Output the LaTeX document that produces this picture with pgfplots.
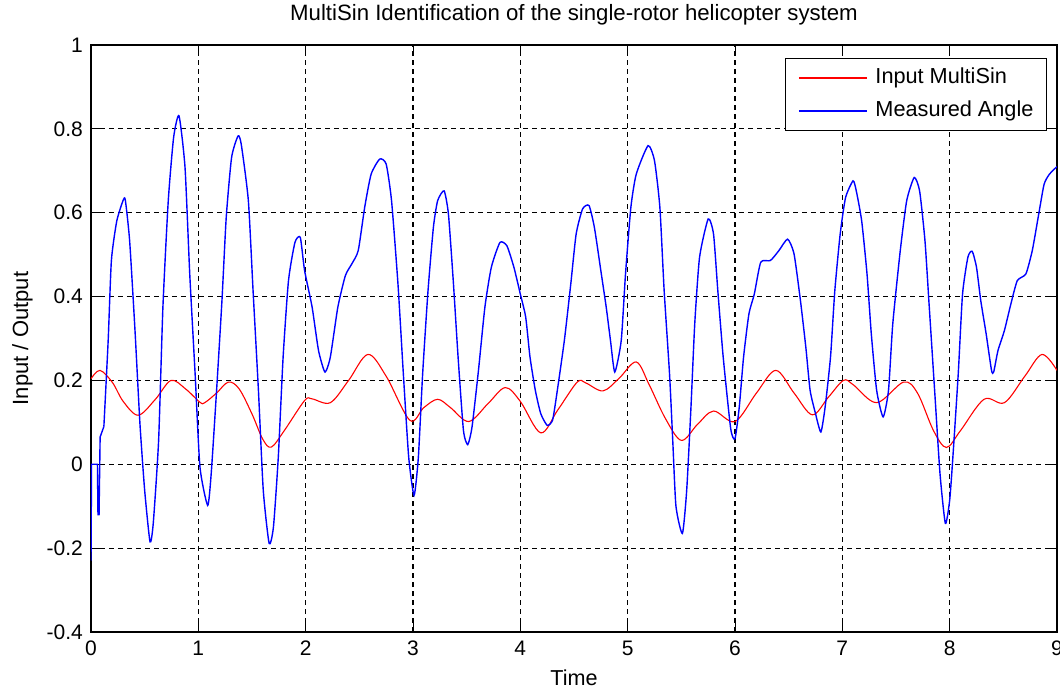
\documentclass[border=0pt]{standalone}
\usepackage{fontspec}
\setmainfont{Liberation Sans}
\usepackage{pgfplots}
\pgfplotsset{compat=1.18}
\begin{document}
\begin{tikzpicture}
\begin{axis}[
  scale only axis, width=966pt, height=587pt,
  at={(0pt,0pt)}, anchor=south west,
  xmin=0, xmax=9, ymin=-0.4, ymax=1,
  xtick={0,1,2,3,4,5,6,7,8,9},
  ytick={-0.4,-0.2,0,0.2,0.4,0.6,0.8,1},
  tick align=inside, major tick length=9pt,
  tick style={black, line width=0.9pt},
  axis line style={black, line width=1.1pt},
  grid=major,
  major grid style={black, line width=1.2pt, dash pattern=on 5pt off 4pt},
  /pgf/number format/assume math mode=true,
  ticklabel style={font=\fontsize{21}{25}\selectfont},
  yticklabel style={/pgf/number format/fixed, /pgf/number format/precision=1, anchor=east, inner sep=0pt, xshift=-8pt},
  xticklabel style={anchor=base, inner sep=0pt, yshift=-23pt},
  title={MultiSin Identification of the single-rotor helicopter system},
  title style={font=\fontsize{22.2}{26}\selectfont, at={(0.5,1.0307)}, anchor=base},
  xlabel={Time},
  xlabel style={font=\fontsize{21.6}{25}\selectfont, at={(0.5,-0.0903)}, anchor=base},
  ylabel={Input / Output},
  ylabel style={font=\fontsize{22}{26}\selectfont, at={(-0.0652,0.5)}, anchor=base},
  legend style={at={(1,1)}, anchor=north east, xshift=-10pt, yshift=-13pt,
    draw=black, line width=1pt, fill=white,
    inner xsep=13pt, inner ysep=9pt, row sep=12pt, column sep=8pt,
    font=\fontsize{21.7}{26}\selectfont,
    nodes={inner sep=0pt, text height=16pt, text depth=5pt}},
  legend cell align=left,
  legend image code/.code={\draw[#1] (0pt,0pt) -- (68pt,0pt);},
]
\addplot[red, line width=1.1pt, smooth, tension=0.55] coordinates {
(0,0.204)(0.084,0.224)(0.2,0.195)(0.3,0.150)(0.44,0.117)(0.6,0.155)(0.745,0.200)(0.88,0.180)(1.015,0.148)(1.06,0.147)(1.17,0.17)(1.28,0.196)(1.38,0.18)(1.5,0.12)(1.6,0.06)(1.68,0.041)(1.8,0.08)(1.99,0.152)(2.06,0.156)(2.23,0.147)(2.4,0.20)(2.58,0.262)(2.75,0.21)(2.97,0.105)(3.1,0.135)(3.23,0.155)(3.35,0.135)(3.52,0.102)(3.7,0.145)(3.86,0.183)(4.0,0.15)(4.19,0.075)(4.35,0.13)(4.53,0.196)(4.61,0.194)(4.77,0.175)(4.92,0.205)(5.08,0.244)(5.2,0.19)(5.35,0.11)(5.5,0.057)(5.65,0.095)(5.80,0.127)(6.0,0.102)(6.2,0.17)(6.38,0.224)(6.55,0.17)(6.72,0.118)(6.87,0.16)(7.01,0.200)(7.1,0.19)(7.32,0.147)(7.57,0.196)(7.7,0.17)(7.85,0.08)(7.97,0.040)(8.1,0.08)(8.32,0.155)(8.51,0.147)(8.7,0.21)(8.86,0.262)(9.0,0.224)
};
\addlegendentry{Input MultiSin}
\addplot[blue, line width=1.4pt, forget plot] coordinates {
(0,-0.23)(0.005,0)(0.06,0)(0.065,-0.12)(0.075,-0.12)(0.085,0.065)(0.12,0.09)
};
\addplot[blue, line width=1.4pt, smooth, tension=0.35] coordinates {
(0.12,0.09)(0.16,0.295)(0.19,0.486)(0.24,0.58)(0.30,0.63)(0.32,0.63)(0.36,0.533)(0.41,0.319)(0.456,0.097)(0.50,-0.062)(0.55,-0.185)(0.58,-0.141)(0.63,0.057)(0.67,0.375)(0.72,0.629)(0.77,0.78)(0.82,0.831)(0.876,0.708)(0.92,0.454)(0.97,0.216)(1.015,-0.006)(1.087,-0.098)(1.12,-0.022)(1.17,0.176)(1.22,0.39)(1.26,0.589)(1.31,0.732)(1.37,0.783)(1.40,0.763)(1.466,0.629)(1.51,0.414)(1.56,0.176)(1.605,-0.062)(1.66,-0.189)(1.70,-0.149)(1.745,0.017)(1.79,0.256)(1.84,0.438)(1.90,0.529)(1.95,0.541)(1.99,0.462)(2.06,0.375)(2.12,0.271)(2.18,0.22)(2.23,0.256)(2.30,0.375)(2.37,0.45)(2.43,0.478)(2.49,0.51)(2.55,0.613)(2.61,0.692)(2.69,0.728)(2.75,0.716)(2.80,0.629)(2.86,0.43)(2.91,0.216)(2.96,0.017)(3.01,-0.074)(3.05,0.017)(3.09,0.216)(3.14,0.414)(3.19,0.565)(3.23,0.629)(3.29,0.652)(3.33,0.597)(3.375,0.438)(3.42,0.256)(3.47,0.081)(3.51,0.047)(3.55,0.089)(3.61,0.224)(3.67,0.375)(3.73,0.47)(3.81,0.529)(3.875,0.521)(3.94,0.47)(4.0,0.406)(4.05,0.351)(4.09,0.256)(4.14,0.176)(4.19,0.121)(4.25,0.093)(4.30,0.105)(4.34,0.168)(4.41,0.295)(4.47,0.43)(4.52,0.549)(4.58,0.609)(4.64,0.617)(4.69,0.565)(4.75,0.462)(4.80,0.375)(4.84,0.295)(4.88,0.22)(4.94,0.295)(4.98,0.454)(5.03,0.613)(5.08,0.692)(5.19,0.76)(5.25,0.724)(5.30,0.613)(5.34,0.414)(5.39,0.216)(5.42,0.057)(5.45,-0.10)(5.51,-0.165)(5.55,-0.062)(5.59,0.137)(5.625,0.335)(5.67,0.494)(5.75,0.585)(5.80,0.549)(5.84,0.414)(5.89,0.256)(5.96,0.085)(6.0,0.061)(6.04,0.137)(6.08,0.256)(6.13,0.359)(6.18,0.406)(6.24,0.482)(6.33,0.486)(6.41,0.51)(6.49,0.537)(6.55,0.502)(6.61,0.39)(6.66,0.279)(6.70,0.176)(6.75,0.121)(6.80,0.077)(6.84,0.137)(6.89,0.256)(6.93,0.414)(6.98,0.549)(7.03,0.636)(7.10,0.676)(7.13,0.652)(7.18,0.581)(7.23,0.454)(7.27,0.311)(7.32,0.176)(7.38,0.113)(7.43,0.176)(7.47,0.335)(7.54,0.51)(7.60,0.629)(7.67,0.684)(7.72,0.652)(7.77,0.533)(7.81,0.375)(7.86,0.176)(7.91,-0.022)(7.96,-0.141)(8.0,-0.086)(8.03,0.017)(8.08,0.216)(8.12,0.406)(8.17,0.494)(8.21,0.508)(8.25,0.47)(8.29,0.39)(8.34,0.311)(8.39,0.224)(8.41,0.22)(8.45,0.271)(8.51,0.319)(8.57,0.382)(8.63,0.438)(8.71,0.454)(8.77,0.51)(8.83,0.597)(8.88,0.668)(8.93,0.692)(9.0,0.71)
};
\addlegendentry{Measured Angle}
\end{axis}
\pgfresetboundingbox
\path[use as bounding box] (-91pt,-57pt) rectangle (969pt,632pt);
\end{tikzpicture}
\end{document}
